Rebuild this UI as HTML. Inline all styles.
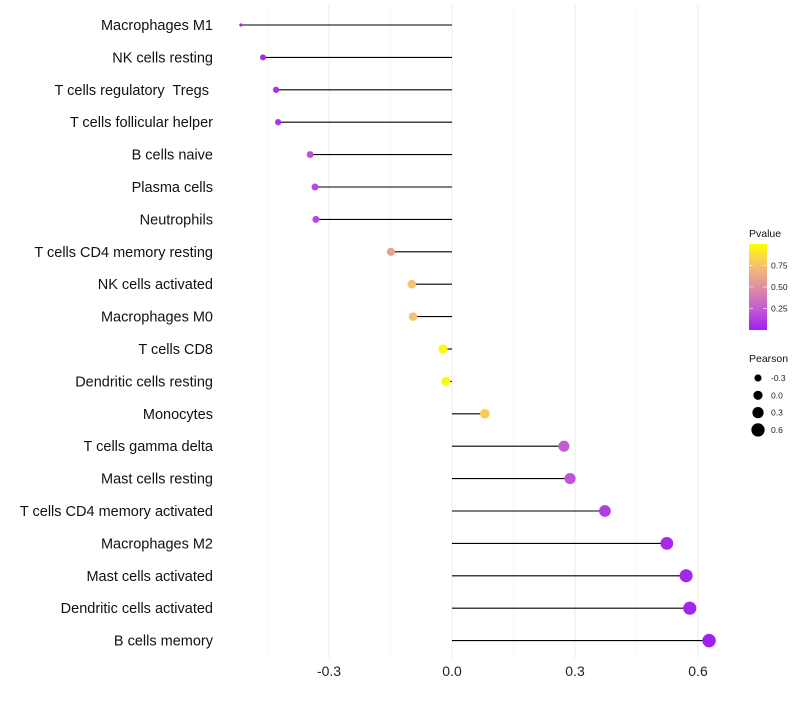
<!DOCTYPE html>
<html><head><meta charset="utf-8"><style>
body{margin:0;background:#fff;font-family:"Liberation Sans",sans-serif}
text{white-space:pre}
</style></head><body>
<svg id="c" width="800" height="700" xmlns="http://www.w3.org/2000/svg"></svg>
<script>
const categories=["Macrophages M1","NK cells resting","T cells regulatory  Tregs ","T cells follicular helper","B cells naive","Plasma cells","Neutrophils","T cells CD4 memory resting","NK cells activated","Macrophages M0","T cells CD8","Dendritic cells resting","Monocytes","T cells gamma delta","Mast cells resting","T cells CD4 memory activated","Macrophages M2","Mast cells activated","Dendritic cells activated","B cells memory"];
const pearson=[-0.515,-0.461,-0.429,-0.424,-0.346,-0.334,-0.332,-0.149,-0.098,-0.095,-0.022,-0.015,0.080,0.273,0.288,0.373,0.524,0.571,0.580,0.627];
const pvalues=[0.02,0.05,0.07,0.08,0.2,0.17,0.17,0.6,0.75,0.75,0.97,0.98,0.8,0.25,0.22,0.12,0.04,0.03,0.02,0.01];
const xTicks=[-0.3,0.0,0.3,0.6];
const xTickLabels=["-0.3","0.0","0.3","0.6"];
const pTicks=[0.25,0.5,0.75];
const pTickLabels=["0.25","0.50","0.75"];
const sizeTicks=[-0.3,0.0,0.3,0.6];
const sizeTickLabels=["-0.3","0.0","0.3","0.6"];

const NS="http://www.w3.org/2000/svg",svg=document.getElementById('c');
function mk(t,a,p){const e=document.createElementNS(NS,t);for(const k in a)e.setAttribute(k,a[k]);(p||svg).appendChild(e);return e;}
const x=v=>452+v*410;
const y=i=>25+i*32.4;
const rad=v=>v<-0.5?1.6:Math.max(1.6,4.6+3.4*v);
const stops=[[0,[160,32,240]],[0.25,[196,92,212]],[0.5,[224,142,160]],[0.75,[244,194,112]],[1,[255,255,0]]];
function col(p){p=Math.max(0,Math.min(1,p));for(let i=1;i<stops.length;i++){if(p<=stops[i][0]){const a=stops[i-1],b=stops[i],t=(p-a[0])/(b[0]-a[0]);return 'rgb('+a[1].map((c,j)=>Math.round(c+(b[1][j]-c)*t)).join(',')+')';}}}
const py=p=>330-p*86;

const minor=[-0.45,-0.15,0.15,0.45];
minor.forEach(v=>{const l=mk('line',{x1:x(v),x2:x(v),y1:5,y2:658,stroke:'#f2f2f2','stroke-width':0.6});});
xTicks.forEach((v,i)=>{const l=mk('line',{x1:x(v),x2:x(v),y1:5,y2:658,stroke:'#ebebeb','stroke-width':1});
const t=mk('text',{x:x(v),y:676,'text-anchor':'middle','font-size':14,fill:'#222'});t.textContent=xTickLabels[i];});
categories.forEach((c,i)=>{
 const t=mk('text',{x:213,y:y(i)+5,'text-anchor':'end','font-size':14.5,fill:'#111'});t.textContent=c;
 const l=mk('line',{x1:x(0),x2:x(pearson[i]),y1:y(i),y2:y(i),stroke:'#000','stroke-width':1.1});
 const d=mk('circle',{cx:x(pearson[i]),cy:y(i),r:rad(pearson[i]),fill:col(pvalues[i])});
});
let g=mk('g',{});
const tt=mk('text',{x:749,y:237,'font-size':10.5,fill:'#111'},g);tt.textContent='Pvalue';
const defs=mk('defs',{}),lg=mk('linearGradient',{id:'pg',x1:0,y1:1,x2:0,y2:0},defs);
stops.forEach(s=>mk('stop',{offset:s[0],'stop-color':col(s[0])},lg));
mk('rect',{x:749,y:244,width:18,height:86,fill:'url(#pg)'},g);
pTicks.forEach((p,i)=>{mk('line',{x1:749,x2:753,y1:py(p),y2:py(p),stroke:'#fff','stroke-width':0.6},g);mk('line',{x1:763,x2:767,y1:py(p),y2:py(p),stroke:'#fff','stroke-width':0.6},g);
const t=mk('text',{x:771,y:py(p)+3,'font-size':8.5,fill:'#222'},g);t.textContent=pTickLabels[i];});
let g2=mk('g',{});
const t2=mk('text',{x:749,y:362,'font-size':10.5,fill:'#111'},g2);t2.textContent='Pearson';
sizeTicks.forEach((v,i)=>{const cy=378+i*17.3;mk('circle',{cx:758,cy:cy,r:rad(v),fill:'#000'},g2);
const t=mk('text',{x:771,y:cy+3,'font-size':8.5,fill:'#222'},g2);t.textContent=sizeTickLabels[i];});
</script>
</body></html>
